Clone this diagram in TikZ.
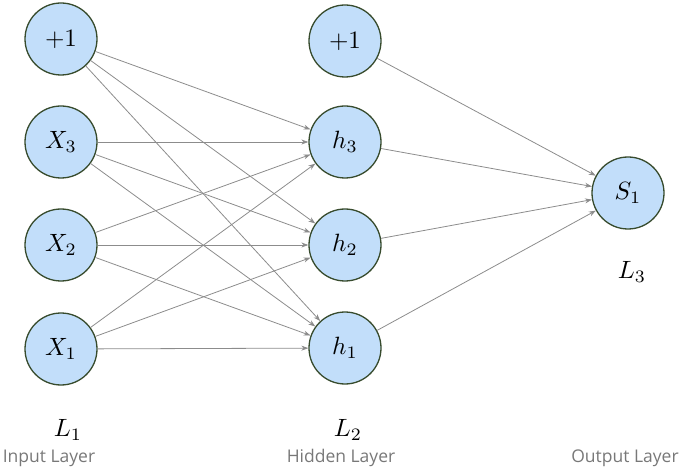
\documentclass[tikz,border=0pt]{standalone}
\usepackage{fontspec}
\setsansfont{Open Sans}
\usetikzlibrary{arrows.meta}
\definecolor{unitfill}{RGB}{194,222,250}
\definecolor{unitdraw}{RGB}{55,75,45}
\definecolor{wiregray}{RGB}{140,140,140}
\definecolor{captiongray}{RGB}{120,120,120}
\newcommand{\bigmath}[1]{\scalebox{2.5}{$#1$}}

\begin{document}
\begin{tikzpicture}[x=1pt,y=-1pt,>={Stealth[length=7pt,width=5pt]},
  unit/.style={circle,draw=unitdraw,line width=1.3pt,fill=unitfill,minimum size=72pt,inner sep=0pt},
  wire/.style={->,draw=wiregray,line width=0.8pt},
  caption/.style={text=captiongray,font=\sffamily\fontsize{17.5}{20}\selectfont}]
  \useasboundingbox (0,0) rectangle (685,470);
  % input layer
  \node[unit] (in1) at (61,39) {\bigmath{+1}};
  \node[unit] (x3) at (61,142) {\bigmath{X_3}};
  \node[unit] (x2) at (61,245) {\bigmath{X_2}};
  \node[unit] (x1) at (61,349) {\bigmath{X_1}};
  % hidden layer
  \node[unit] (hb) at (345,41) {\bigmath{+1}};
  \node[unit] (h3) at (345,142) {\bigmath{h_3}};
  \node[unit] (h2) at (345,245) {\bigmath{h_2}};
  \node[unit] (h1) at (345,348) {\bigmath{h_1}};
  % output layer
  \node[unit] (s1) at (628,193) {\bigmath{S_1}};
  % weights
  \foreach \a in {in1,x3,x2,x1}
    \foreach \b in {h3,h2,h1}
      \draw[wire] (\a) -- (\b);
  \foreach \a in {hb,h3,h2,h1}
    \draw[wire] (\a) -- (s1);
  % layer labels
  \node (l1) at (68,430) {\bigmath{L_1}};
  \node (l2) at (348,430) {\bigmath{L_2}};
  \node (l3) at (632,272) {\bigmath{L_3}};
  \node[caption] (cin) at (49,458) {Input Layer};
  \node[caption] (chid) at (341,458) {Hidden Layer};
  \node[caption] (cout) at (625,458) {Output Layer};
\end{tikzpicture}
\end{document}
